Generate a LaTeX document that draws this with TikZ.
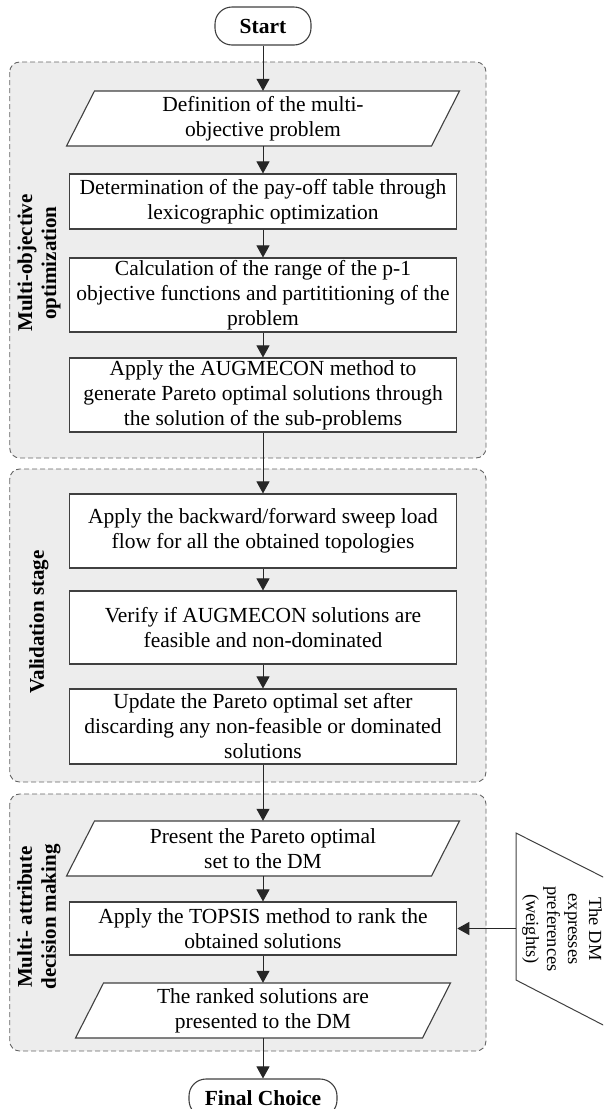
\documentclass[tikz,border=0pt]{standalone}
\usepackage{fontspec}
\setmainfont{Liberation Serif}
\usetikzlibrary{arrows.meta}
\newcommand\bodyfs{\fontsize{21.5}{25}\selectfont}
\newcommand\labfs{\fontsize{21}{24}\selectfont\bfseries}
\newcommand\dmfs{\fontsize{18.5}{21}\selectfont}
\newcommand\paraoutline[5]{%
  \filldraw[iobox] (#1-#3-#5,#2+#4) -- (#1+#3-#5,#2+#4) -- (#1+#3+#5,#2-#4) -- (#1-#3+#5,#2-#4) -- cycle;}
\tikzset{
  grp/.style={draw=black!60, fill=black!7, dash pattern=on 5pt off 3pt, rounded corners=10pt, line width=0.9pt},
  procbox/.style={draw=black!75, fill=white, line width=1.1pt, minimum width=387.5pt, align=center, inner sep=0pt, font=\bodyfs},
  iotext/.style={align=center, inner sep=0pt, font=\bodyfs},
  iobox/.style={draw=black!75, fill=white, line width=1.1pt},
  term/.style={draw=black!75, fill=white, rounded corners=17pt, line width=1.1pt, font=\bodyfs\bfseries, inner sep=0pt, minimum height=38pt},
  arr/.style={draw=black!85, line width=1pt, -{Triangle[width=13pt,length=12pt]}},
  sidelab/.style={rotate=90, align=center, font=\labfs, inner sep=0pt},
}
\begin{document}
\begin{tikzpicture}[x=1pt,y=-1pt]
\useasboundingbox (0,0) rectangle (603,1109);
\clip (0,0) rectangle (603,1109);
% groups
\path[grp] (9.7,62) rectangle (486,458);
\path[grp] (9.7,469) rectangle (486,782);
\path[grp] (9.7,794) rectangle (486,1051);
\node[sidelab] (lab1) at (39,263) {Multi-objective\\optimization};
\node[sidelab] (lab2) at (39,622) {Validation stage};
\node[sidelab] (lab3) at (39,917) {Multi- attribute\\decision making};
% terminals
\node[term, minimum width=96pt] (start) at (263,26) {Start};
\node[term, minimum width=148pt] (final) at (263,1098) {Final Choice};
% stage 1
\paraoutline{263}{118.5}{182.5}{27.5}{14}
\node[iotext, minimum width=365pt, minimum height=55pt] (p1) at (263,118.5) {Definition of the multi-\\objective problem};
\node[procbox, minimum height=55pt] (b2) at (263,201.5) {Determination of the pay-off table through\\lexicographic optimization};
\node[procbox, minimum height=74pt] (b3) at (263,295) {Calculation of the range of the p-1\\objective functions and partititioning of the\\problem};
\node[procbox, minimum height=74pt] (b4) at (263,395) {Apply the AUGMECON method to\\generate Pareto optimal solutions through\\the solution of the sub-problems};
% stage 2
\node[procbox, minimum height=74pt] (b5) at (263,531) {Apply the backward/forward sweep load\\flow for all the obtained topologies};
\node[procbox, minimum height=73pt] (b6) at (263,627.5) {Verify if AUGMECON solutions are\\feasible and non-dominated};
\node[procbox, minimum height=75pt] (b7) at (263,726.5) {Update the Pareto optimal set after\\discarding any non-feasible or dominated\\solutions};
% stage 3
\paraoutline{263}{848.5}{182.5}{27.5}{14}
\node[iotext, minimum width=365pt, minimum height=55pt] (p2) at (263,848.5) {Present the Pareto optimal\\set to the DM};
\node[procbox, minimum height=53pt] (b8) at (263,928.5) {Apply the TOPSIS method to rank the\\obtained solutions};
\paraoutline{263}{1010.5}{173.5}{27.5}{14}
\node[iotext, minimum width=347pt, minimum height=55pt] (p3) at (263,1010.5) {The ranked solutions are\\presented to the DM};
% DM input shape
\draw[draw=black!75, line width=1pt] (700,926) -- (516,833) -- (516,980) -- (700,1075);
\coordinate (dm) at (516,928.5);
\node[rotate=-90, align=center, font=\dmfs, inner sep=0pt] (dmtext) at (562,929) {The DM\\expresses\\preferences\\(weights)};
% connectors
\draw[arr] (start) -- (p1);
\draw[arr] (p1) -- (b2);
\draw[arr] (b2) -- (b3);
\draw[arr] (b3) -- (b4);
\draw[arr] (b4) -- (b5);
\draw[arr] (b5) -- (b6);
\draw[arr] (b6) -- (b7);
\draw[arr] (b7) -- (p2);
\draw[arr] (p2) -- (b8);
\draw[arr] (b8) -- (p3);
\draw[arr] (p3) -- (final);
\draw[arr] (dm) -- (b8);
\end{tikzpicture}
\end{document}
